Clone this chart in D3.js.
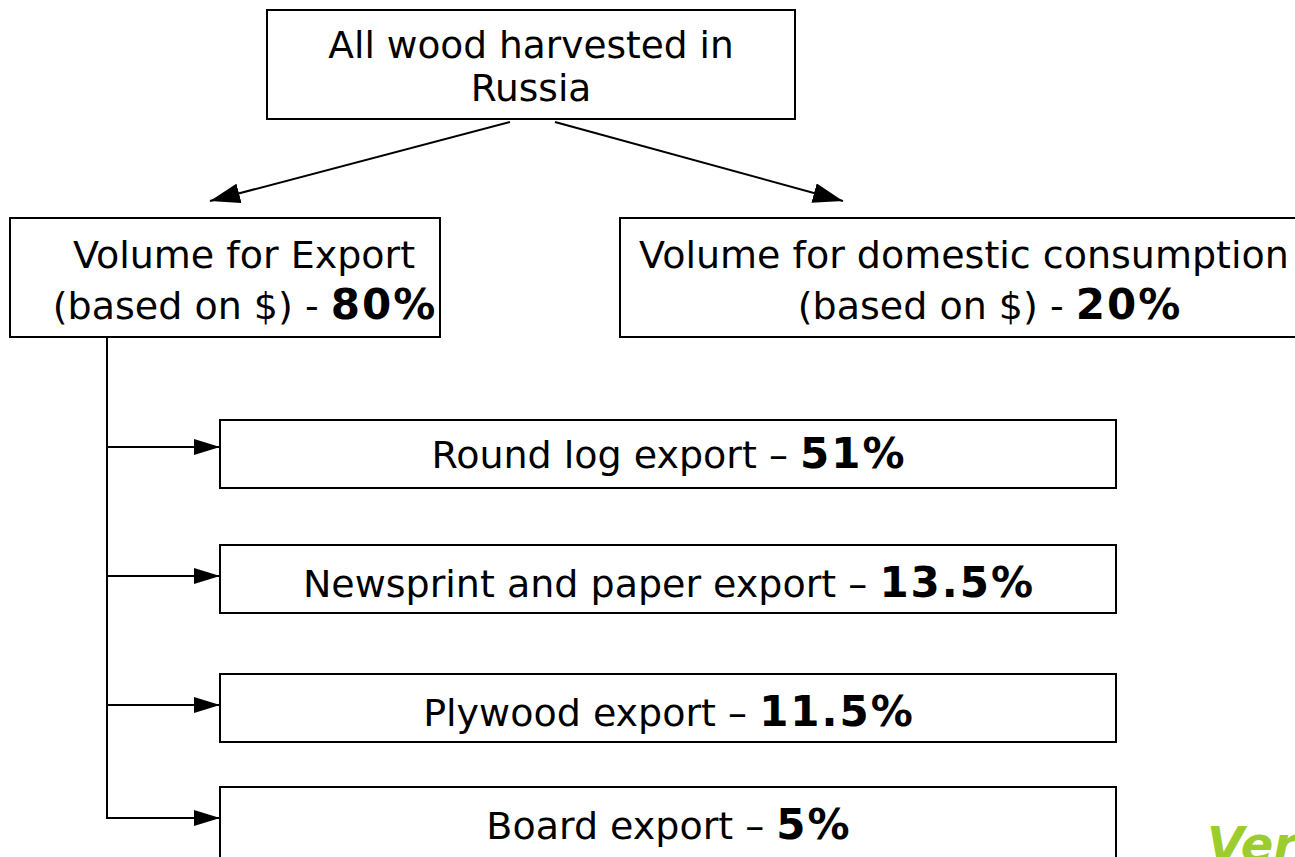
<!DOCTYPE html>
<html>
<head>
<meta charset="utf-8">
<script src="https://cdn.jsdelivr.net/npm/d3@7"></script>
<style>
  body { margin: 0; background: #fff; overflow: hidden; }
  text { font-family: "DejaVu Sans", Verdana, sans-serif; fill: #000; }
</style>
</head>
<body>
<div id="chart"></div>
<script>
// chart content
var rootLines = ["All wood harvested in", "Russia"];
var splitLabels = ["Volume for Export", "Volume for domestic consumption"];
var splitBasis = "(based on $) - ";
var splitShares = ["80%", "20%"];
var exportItems = ["Round log export", "Newsprint and paper export", "Plywood export", "Board export"];
var exportShares = ["51%", "13.5%", "11.5%", "5%"];

const width = 1295, height = 857;
const fontSize = 38, boldSize = 42;

var svg = d3.select("#chart")
  .append("svg")
  .attr("width", width)
  .attr("height", height);

// arrow heads
var defs = svg.append("defs");
defs.append("marker")
  .attr("id", "headBig")
  .attr("markerUnits", "userSpaceOnUse")
  .attr("viewBox", "0 0 30 20")
  .attr("refX", 30).attr("refY", 10)
  .attr("markerWidth", 30).attr("markerHeight", 20)
  .attr("orient", "auto")
  .append("path").attr("d", "M0,0L30,10L0,20Z").attr("fill", "#000");
defs.append("marker")
  .attr("id", "headSmall")
  .attr("markerUnits", "userSpaceOnUse")
  .attr("viewBox", "0 0 26 16")
  .attr("refX", 26).attr("refY", 8)
  .attr("markerWidth", 26).attr("markerHeight", 16)
  .attr("orient", "auto")
  .append("path").attr("d", "M0,0L26,8L0,16Z").attr("fill", "#000");

function box(x, y, w, h) {
  svg.append("rect")
    .attr("x", x).attr("y", y)
    .attr("width", w).attr("height", h)
    .attr("fill", "#fff")
    .attr("stroke", "#000")
    .attr("stroke-width", 2);
}

// regular text followed by a bold share
function label(x, y, plain, share) {
  var t = svg.append("text")
    .attr("x", share ? x + 1 : x).attr("y", y)
    .attr("text-anchor", "middle")
    .attr("font-size", fontSize);
  t.append("tspan").text(plain);
  if (share) {
    t.append("tspan")
      .attr("font-weight", "bold")
      .attr("font-size", boldSize)
      .attr("letter-spacing", 2)
      .text(share);
  }
}

// top box
box(267, 10, 528, 109);
svg.append("g").selectAll("text")
  .data(rootLines)
  .join("text")
  .attr("x", 531)
  .attr("y", (d, i) => 58 + i * 43)
  .attr("text-anchor", "middle")
  .attr("font-size", 37.5)
  .text(d => d);

// two split boxes
var splitX = d3.scaleOrdinal().domain(splitLabels).range([10, 620]);
var splitW = d3.scaleOrdinal().domain(splitLabels).range([430, 690]);
var splitCx = d3.scaleOrdinal().domain(splitLabels).range([244, 964]);
var shareCx = d3.scaleOrdinal().domain(splitLabels).range([244, 989]);
splitLabels.forEach(function (d, i) {
  box(splitX(d), 218, splitW(d), 119);
  label(splitCx(d), 268, d);
  label(shareCx(d), 319, splitBasis, splitShares[i]);
});

// diagonal arrows from root
var diag = [[510, 122, 210, 201], [555, 122, 843, 201]];
svg.append("g").selectAll("line")
  .data(diag)
  .join("line")
  .attr("x1", d => d[0]).attr("y1", d => d[1])
  .attr("x2", d => d[2]).attr("y2", d => d[3])
  .attr("stroke", "#000").attr("stroke-width", 2)
  .attr("marker-end", "url(#headBig)");

// export breakdown
var rowTop = d3.scaleOrdinal().domain(exportItems).range([420, 545, 674, 787]);
var boxX = 220, boxW = 896, boxH = 68;
var spineX = 107;

svg.append("line")
  .attr("x1", spineX).attr("y1", 337)
  .attr("x2", spineX).attr("y2", rowTop(exportItems[exportItems.length - 1]) + 32)
  .attr("stroke", "#000").attr("stroke-width", 2);

exportItems.forEach(function (d, i) {
  var y = rowTop(d);
  box(boxX, y, boxW, i === exportItems.length - 1 ? 90 : boxH);
  var ay = y + (i === 0 ? 27 : 31);
  svg.append("line")
    .attr("x1", spineX - 1).attr("y1", ay)
    .attr("x2", boxX).attr("y2", ay)
    .attr("stroke", "#000").attr("stroke-width", 2)
    .attr("marker-end", "url(#headSmall)");
  label(boxX + boxW / 2, y + (i === 0 ? 48 : 52), d + " \u2013 ", exportShares[i]);
});

// logo fragment, cut at the corner as in the source slide
var logo = svg.append("text")
  .attr("x", 1207).attr("y", 861)
  .attr("font-family", "'Liberation Sans', Arial, sans-serif")
  .attr("font-size", 48)
  .attr("font-weight", "bold")
  .attr("font-style", "italic");
logo.append("tspan").attr("fill", "#9ccc2e").text("Ver");
logo.append("tspan").attr("fill", "#1f7a3a").text("sa");
</script>
</body>
</html>
